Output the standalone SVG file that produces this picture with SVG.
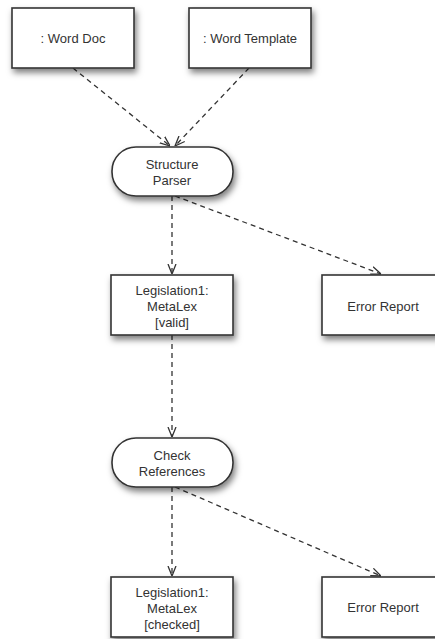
<svg xmlns="http://www.w3.org/2000/svg" width="435" height="639" viewBox="0 0 435 639">
<style>
.box{fill:#fff;stroke:#333;stroke-width:1.6;filter:url(#sh)}
.t{font-family:"Liberation Sans",Arial,sans-serif;font-size:13px;fill:#333;text-anchor:middle}
.c{fill:none;stroke:#333;stroke-width:1.3;stroke-dasharray:5,4;marker-end:url(#ah)}
</style>
<defs>
<filter id="sh" x="-20%" y="-20%" width="150%" height="160%">
<feDropShadow dx="2" dy="4" stdDeviation="3" flood-color="#000" flood-opacity="0.5"/>
</filter>
<marker id="ah" viewBox="0 0 10 10" refX="10" refY="5" markerWidth="10" markerHeight="10" markerUnits="userSpaceOnUse" orient="auto">
<path d="M0,1 L10,5 L0,9" fill="none" stroke="#333" stroke-width="1.3"/>
</marker>
</defs>
<g id="connectors">
<line class="c" x1="73" y1="68" x2="170" y2="146"/>
<line class="c" x1="249" y1="68" x2="175" y2="146"/>
<line class="c" x1="172" y1="196" x2="172" y2="274"/>
<line class="c" x1="175" y1="196" x2="381" y2="274"/>
<line class="c" x1="172" y1="335" x2="172" y2="437"/>
<line class="c" x1="172" y1="487" x2="172" y2="576"/>
<line class="c" x1="175" y1="487" x2="381" y2="576"/>
</g>
<g id="word-doc">
<rect class="box" x="12" y="8" width="122" height="60"/>
<text class="t" x="73" y="43">: Word Doc</text>
</g>
<g id="word-template">
<rect class="box" x="189" y="8" width="122" height="60"/>
<text class="t" x="250" y="43">: Word Template</text>
</g>
<g id="structure-parser">
<rect class="box" x="112" y="147" width="121" height="49" rx="24" ry="24"/>
<text class="t" x="172" y="169">Structure</text>
<text class="t" x="172" y="185">Parser</text>
</g>
<g id="legislation-valid">
<rect class="box" x="111" y="275" width="122" height="60"/>
<text class="t" x="172" y="295">Legislation1:</text>
<text class="t" x="172" y="311">MetaLex</text>
<text class="t" x="172" y="327">[valid]</text>
</g>
<g id="error-report-1">
<rect class="box" x="322" y="275" width="122" height="60"/>
<text class="t" x="383" y="311">Error Report</text>
</g>
<g id="check-references">
<rect class="box" x="112" y="438" width="121" height="49" rx="24" ry="24"/>
<text class="t" x="172" y="460">Check</text>
<text class="t" x="172" y="476">References</text>
</g>
<g id="legislation-checked">
<rect class="box" x="111" y="577" width="122" height="60"/>
<text class="t" x="172" y="597">Legislation1:</text>
<text class="t" x="172" y="613">MetaLex</text>
<text class="t" x="172" y="629">[checked]</text>
</g>
<g id="error-report-2">
<rect class="box" x="322" y="577" width="122" height="60"/>
<text class="t" x="383" y="612">Error Report</text>
</g>
</svg>
